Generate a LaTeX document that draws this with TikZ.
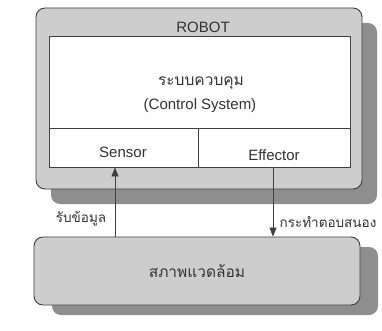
\documentclass[tikz,border=0pt]{standalone}
\usepackage{fontspec}
\setmainfont{Liberation Sans}
\newfontfamily\thaifont[Script=Thai]{Loma}
\usetikzlibrary{arrows.meta,shadows}
\definecolor{boxfill}{HTML}{CDCDCD}
\definecolor{shadowc}{HTML}{8E8E8E}
\definecolor{linec}{HTML}{404040}
\definecolor{textc}{HTML}{333333}
\tikzset{
  outerbox/.style={draw=linec, line width=0.9pt, fill=boxfill, rounded corners=9pt,
    drop shadow={shadow xshift=15pt, shadow yshift=-15pt, fill=shadowc, opacity=1}},
  envbox/.style={draw=linec, line width=0.9pt, fill=boxfill, rounded corners=9pt,
    drop shadow={shadow xshift=18pt, shadow yshift=-10pt, fill=shadowc, opacity=1}},
  cell/.style={draw=linec, line width=0.8pt, fill=white, inner sep=0pt},
  arr/.style={draw=linec, line width=0.8pt, -{Triangle[length=9pt,width=7pt]}},
  lbl/.style={text=textc, font=\fontsize{15}{17}\selectfont},
  thailbl/.style={text=textc, font=\thaifont\fontsize{15.5}{18}\selectfont},
  thaismall/.style={text=textc, font=\thaifont\fontsize{13.5}{16}\selectfont},
}
\begin{document}
\begin{tikzpicture}[x=1pt,y=-1pt]
\useasboundingbox (0,0) rectangle (382,331);
\fill[white] (0,0) rectangle (382,331);
% robot outer box
\node[outerbox, minimum width=326pt, minimum height=181pt] (robot) at (199,98.5) {};
\node[lbl] (robotlbl) at (203,27) {ROBOT};
% control system
\node[cell, minimum width=301pt, minimum height=92pt] (control) at (199.5,82) {};
\node[thailbl] (ctrlth) at (201,83) {ระบบควบคุม};
\node[lbl] (ctrlen) at (200,106) {(Control System)};
% sensor / effector
\node[cell, minimum width=149pt, minimum height=39pt] (sensor) at (123.5,147.5) {};
\node[cell, minimum width=152pt, minimum height=39pt] (effector) at (274,147.5) {};
\node[lbl] (sensorlbl) at (123,152) {Sensor};
\node[lbl] (effectorlbl) at (274,155) {Effector};
% environment
\node[envbox, minimum width=326pt, minimum height=68pt] (env) at (197,271) {};
\node[thailbl] (envlbl) at (197,271) {สภาพแวดล้อม};
% arrows
\coordinate (sx) at (115,0);
\coordinate (ex) at (273,0);
\draw[arr] (sx |- env.north) -- (sx |- sensor.south);
\draw[arr] (ex |- effector.south) -- (ex |- env.north);
\node[thaismall] (inlbl) at (81,219) {รับข้อมูล};
\node[thaismall] (outlbl) at (328,222) {กระทำตอบสนอง};
\end{tikzpicture}
\end{document}
